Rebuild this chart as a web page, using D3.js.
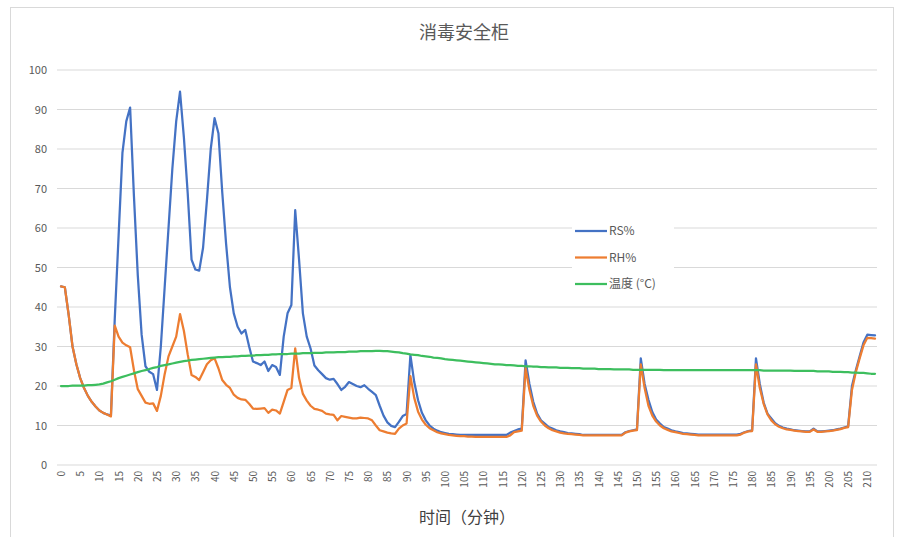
<!DOCTYPE html>
<html>
<head>
<meta charset="utf-8">
<script src="https://cdn.jsdelivr.net/npm/d3@7"></script>
<style>
  body { margin: 0; background: #fff; }
  svg { display: block; }
  text { font-family: "Noto Sans CJK SC", "Noto Sans", sans-serif; }
</style>
</head>
<body>
<div id="chart-area"></div>
<script>
// minutes 0..212
var minutes = d3.range(0, 213);
var tickLabels = d3.range(0, 211, 5);
var yTicks = [0, 10, 20, 30, 40, 50, 60, 70, 80, 90, 100];
var seriesNames = ['RS%', 'RH%', '温度 (°C)'];

var rs = [
  45.2, 45.0, 38.0, 30.0, 25.5, 22.0, 19.5, 17.5, 16.0, 14.8,
  13.8, 13.2, 12.8, 12.5, 37.0, 58.0, 79.0, 87.0, 90.5, 68.0,
  48.0, 33.0, 25.0, 23.6, 23.0, 19.0, 30.0, 45.0, 60.0, 75.0,
  87.0, 94.5, 83.0, 68.8, 52.0, 49.5, 49.2, 55.0, 67.0, 80.0,
  87.8, 84.0, 69.0, 56.0, 45.0, 38.4, 35.0, 33.3, 34.2, 30.0,
  26.2, 25.8, 25.3, 26.2, 23.8, 25.3, 24.8, 22.8, 32.5, 38.4,
  40.5, 64.5, 52.0, 38.4, 32.5, 29.5, 25.2, 24.0, 23.0, 22.0,
  21.6, 21.8, 20.5, 19.0, 19.8, 21.0, 20.5, 20.0, 19.7, 20.2,
  19.3, 18.5, 17.7, 15.0, 12.5, 10.8, 9.9, 9.6, 10.9, 12.4,
  12.9, 27.8, 21.0, 16.4, 13.2, 11.3, 10.0, 9.2, 8.7, 8.3,
  8.1, 7.9, 7.8, 7.7, 7.6, 7.6, 7.6, 7.6, 7.6, 7.6,
  7.6, 7.6, 7.6, 7.6, 7.6, 7.6, 7.6, 8.2, 8.6, 9.0,
  9.2, 26.5, 20.5, 16.0, 13.0, 11.3, 10.5, 9.6, 9.2, 8.8,
  8.5, 8.3, 8.1, 8.0, 7.9, 7.8, 7.6, 7.6, 7.6, 7.6,
  7.6, 7.6, 7.6, 7.6, 7.6, 7.6, 7.6, 8.3, 8.6, 8.8,
  9.0, 27.0, 20.5, 16.5, 13.4, 11.5, 10.5, 9.6, 9.2, 8.8,
  8.5, 8.3, 8.1, 8.0, 7.9, 7.8, 7.7, 7.7, 7.7, 7.7,
  7.7, 7.7, 7.7, 7.7, 7.7, 7.7, 7.7, 7.9, 8.3, 8.6,
  8.8, 27.0, 20.5, 15.8, 13.0, 11.8, 10.6, 9.9, 9.5, 9.2,
  9.0, 8.8, 8.7, 8.6, 8.5, 8.5, 9.2, 8.5, 8.5, 8.6,
  8.7, 8.8, 9.0, 9.2, 9.5, 9.8, 20.0, 24.0, 27.5, 31.0,
  33.0, 32.9, 32.8
];

var rh = [
  45.2, 45.0, 38.0, 30.0, 25.5, 22.0, 19.5, 17.5, 16.0, 14.8,
  13.8, 13.2, 12.8, 12.3, 35.3, 32.5, 31.0, 30.3, 29.8, 24.0,
  19.2, 17.5, 15.8, 15.5, 15.6, 13.7, 17.5, 23.0, 27.5, 30.0,
  32.5, 38.2, 34.0, 28.0, 22.8, 22.3, 21.5, 23.5, 25.5, 26.5,
  27.0, 24.5, 21.5, 20.3, 19.5, 17.8, 17.0, 16.6, 16.5, 15.5,
  14.3, 14.2, 14.3, 14.4, 13.2, 14.0, 13.8, 13.0, 16.0, 19.0,
  19.5, 29.5, 22.0, 18.0, 16.3, 15.0, 14.2, 14.0, 13.7, 13.0,
  12.8, 12.7, 11.3, 12.4, 12.2, 12.0, 11.8, 11.8, 12.0, 11.9,
  11.8, 11.3, 10.0, 8.8, 8.5, 8.2, 8.0, 7.9, 9.2, 10.0,
  10.5, 22.5, 17.0, 13.5, 11.5, 10.2, 9.3, 8.8, 8.3, 8.0,
  7.8, 7.6, 7.5, 7.4, 7.3, 7.3, 7.2, 7.2, 7.1, 7.1,
  7.1, 7.1, 7.1, 7.1, 7.1, 7.1, 7.1, 7.5, 8.3, 8.5,
  8.7, 24.5, 19.0, 15.0, 12.5, 11.0, 10.0, 9.3, 8.8, 8.5,
  8.2, 8.0, 7.9, 7.8, 7.7, 7.6, 7.5, 7.5, 7.5, 7.5,
  7.5, 7.5, 7.5, 7.5, 7.5, 7.5, 7.5, 8.2, 8.5, 8.7,
  8.8, 25.5, 19.5, 15.0, 12.5, 11.0, 10.0, 9.3, 8.9, 8.5,
  8.3, 8.1, 7.9, 7.8, 7.7, 7.6, 7.5, 7.5, 7.5, 7.5,
  7.5, 7.5, 7.5, 7.5, 7.5, 7.5, 7.5, 7.7, 8.2, 8.5,
  8.6, 25.5, 19.5, 15.5, 12.8, 11.3, 10.3, 9.7, 9.3, 9.0,
  8.9, 8.7, 8.6, 8.5, 8.4, 8.4, 9.0, 8.4, 8.4, 8.5,
  8.6, 8.7, 8.9, 9.1, 9.4, 9.6, 19.0, 23.5, 27.0, 30.3,
  32.2, 32.1, 32.0
];

var temp = [
  20.0, 20.0, 20.0, 20.1, 20.1, 20.1, 20.1, 20.2, 20.2, 20.3,
  20.4, 20.6, 20.9, 21.2, 21.6, 22.0, 22.3, 22.6, 22.9, 23.2,
  23.5, 23.8, 24.0, 24.3, 24.6, 24.8, 25.1, 25.3, 25.5, 25.7,
  25.9, 26.1, 26.3, 26.4, 26.6, 26.7, 26.8, 26.9, 27.0, 27.1,
  27.2, 27.3, 27.3, 27.4, 27.4, 27.5, 27.5, 27.6, 27.6, 27.7,
  27.7, 27.8, 27.8, 27.9, 27.9, 28.0, 28.0, 28.1, 28.1, 28.1,
  28.2, 28.2, 28.2, 28.3, 28.3, 28.3, 28.4, 28.4, 28.4, 28.5,
  28.5, 28.5, 28.6, 28.6, 28.6, 28.7, 28.7, 28.7, 28.8, 28.8,
  28.8, 28.8, 28.9, 28.9, 28.8, 28.8, 28.7, 28.6, 28.5, 28.3,
  28.2, 28.0, 27.9, 27.8, 27.6, 27.5, 27.4, 27.2, 27.1, 27.0,
  26.8, 26.7, 26.6, 26.5, 26.4, 26.3, 26.2, 26.1, 26.0, 25.9,
  25.8, 25.7, 25.6, 25.5, 25.5, 25.4, 25.3, 25.3, 25.2, 25.1,
  25.1, 25.0, 25.0, 24.9, 24.9, 24.8, 24.8, 24.7, 24.7, 24.7,
  24.6, 24.6, 24.6, 24.5, 24.5, 24.5, 24.4, 24.4, 24.4, 24.4,
  24.3, 24.3, 24.3, 24.3, 24.2, 24.2, 24.2, 24.2, 24.2, 24.1,
  24.1, 24.1, 24.1, 24.1, 24.1, 24.1, 24.1, 24.0, 24.0, 24.0,
  24.0, 24.0, 24.0, 24.0, 24.0, 24.0, 24.0, 24.0, 24.0, 24.0,
  24.0, 24.0, 24.0, 24.0, 24.0, 24.0, 24.0, 24.0, 24.0, 24.0,
  24.0, 24.0, 24.0, 23.9, 23.9, 23.9, 23.9, 23.9, 23.9, 23.9,
  23.9, 23.8, 23.8, 23.8, 23.8, 23.8, 23.8, 23.7, 23.7, 23.7,
  23.7, 23.6, 23.6, 23.6, 23.5, 23.5, 23.4, 23.4, 23.3, 23.3,
  23.2, 23.1, 23.1
];

var colors = ['#4472C4', '#ED7D31', '#3DBE5E'];

var W = 898, H = 537;
var plotLeft = 57, plotRight = 877, plotTop = 70, plotBottom = 465;

var svg = d3.select('#chart-area')
  .append('svg')
  .attr('width', W)
  .attr('height', H);

// chart frame
svg.append('rect')
  .attr('x', 10.5)
  .attr('y', 7.5)
  .attr('width', 883)
  .attr('height', 540)
  .attr('fill', '#fff')
  .attr('stroke', '#d9d9d9')
  .attr('stroke-width', 1);

// X Scale
var x = d3.scaleLinear()
  .domain([0, 212])
  .range([61, 875]);

// Y Scale
var y = d3.scaleLinear()
  .domain([0, 100])
  .range([plotBottom, plotTop]);

// gridlines
svg.append('g')
  .selectAll('line')
  .data(yTicks)
  .enter()
  .append('line')
    .attr('x1', plotLeft)
    .attr('x2', plotRight)
    .attr('y1', function(d) { return y(d); })
    .attr('y2', function(d) { return y(d); })
    .attr('stroke', '#d9d9d9')
    .attr('stroke-width', 1);

// Y Axis
var yAxisGroup = svg.append('g')
  .attr('transform', 'translate(' + (plotLeft - 10) + ', 0)')
  .call(d3.axisLeft(y).tickValues(yTicks).tickSize(0).tickPadding(0));
yAxisGroup.select('.domain').remove();
yAxisGroup.selectAll('text')
  .attr('fill', '#595959')
  .attr('font-size', '11px')
  .attr('font-family', 'Roboto, "Noto Sans", sans-serif');

// X Axis
var xAxisGroup = svg.append('g')
  .attr('transform', 'translate(0, ' + plotBottom + ')')
  .call(d3.axisBottom(x).tickValues(tickLabels).tickSize(0).tickFormat(d3.format('d')));
xAxisGroup.select('.domain').remove();
xAxisGroup.selectAll('text')
  .attr('fill', '#595959')
  .attr('font-size', '10px')
  .attr('font-family', 'Roboto, "Noto Sans", sans-serif')
  .attr('text-anchor', 'end')
  .attr('dy', '0.35em')
  .attr('transform', function() { return 'translate(0, 6) rotate(-90)'; })
  .attr('x', 0)
  .attr('y', 0);

// lines
var line = d3.line()
  .x(function(d, i) { return x(minutes[i]); })
  .y(function(d) { return y(d); });

[rs, rh, temp].forEach(function(data, i) {
  svg.append('path')
    .datum(data)
    .attr('fill', 'none')
    .attr('stroke', colors[i])
    .attr('stroke-width', 2.25)
    .attr('stroke-linejoin', 'round')
    .attr('stroke-linecap', 'round')
    .attr('d', line);
});

// Title
svg.append('text')
  .attr('x', 464)
  .attr('y', 39)
  .attr('text-anchor', 'middle')
  .attr('font-size', '18px')
  .attr('fill', '#595959')
  .text('消毒安全柜');

// X Label
svg.append('text')
  .attr('x', 467)
  .attr('y', 523)
  .attr('text-anchor', 'middle')
  .attr('font-size', '16px')
  .attr('fill', '#404040')
  .text('时间（分钟）');

// Legend
var legend = svg.append('g');
legend.append('rect')
  .attr('x', 572)
  .attr('y', 218)
  .attr('width', 102)
  .attr('height', 78)
  .attr('fill', '#fff');

var legendItem = legend.selectAll('g.item')
  .data(seriesNames)
  .enter()
  .append('g')
    .attr('class', 'item')
    .attr('transform', function(d, i) { return 'translate(575, ' + (231 + i * 26.5) + ')'; });

legendItem.append('line')
  .attr('x1', 0)
  .attr('x2', 32)
  .attr('stroke', function(d, i) { return colors[i]; })
  .attr('stroke-width', 2.25);

legendItem.append('text')
  .attr('x', 34)
  .attr('dy', '0.35em')
  .attr('font-size', '12px')
  .attr('fill', '#595959')
  .text(function(d) { return d; });
</script>
</body>
</html>
